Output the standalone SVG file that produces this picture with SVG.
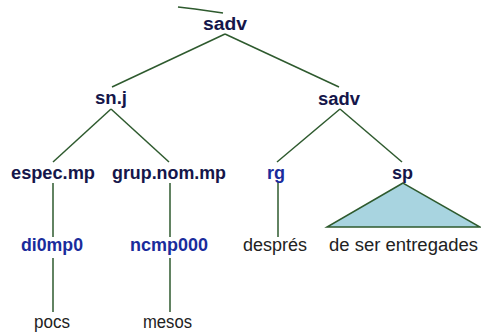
<svg xmlns="http://www.w3.org/2000/svg" width="481" height="334" viewBox="0 0 481 334">
<style>
.bg{fill:#ffffff}
.e{stroke:#2e5a2e;stroke-width:1.5;fill:none}
.tri{stroke:#2e5a2e;stroke-width:1.5;fill:#a8d4e0}
.cat{font-family:"Liberation Sans",Arial,sans-serif;font-weight:bold;font-size:18px;fill:#15164a;text-anchor:middle}
.pos{font-family:"Liberation Sans",Arial,sans-serif;font-weight:bold;font-size:18px;fill:#1a2c9c;text-anchor:middle}
.w{font-family:"Liberation Sans",Arial,sans-serif;font-size:18px;fill:#222222;text-anchor:middle}
</style>
<rect class="bg" x="0" y="0" width="481" height="334"/>
<g id="connectors">
<polyline class="e" points="178,7 195,9 223,13"/>
<line class="e" x1="225" y1="34" x2="112" y2="87"/>
<line class="e" x1="225" y1="34" x2="339" y2="87"/>
<line class="e" x1="111" y1="109" x2="53" y2="162"/>
<line class="e" x1="111" y1="109" x2="169" y2="162"/>
<line class="e" x1="340" y1="109" x2="277" y2="162"/>
<line class="e" x1="340" y1="109" x2="402" y2="162"/>
<line class="e" x1="53" y1="183" x2="53" y2="237"/>
<line class="e" x1="170" y1="183" x2="170" y2="237"/>
<line class="e" x1="278" y1="182" x2="278" y2="237"/>
<line class="e" x1="53" y1="258" x2="53" y2="312"/>
<line class="e" x1="170" y1="258" x2="170" y2="312"/>
</g>
<g id="n-sadv-root"><text class="cat" x="225" y="30" textLength="44" lengthAdjust="spacingAndGlyphs">sadv</text></g>
<g id="n-snj"><text class="cat" x="111" y="104" textLength="32" lengthAdjust="spacingAndGlyphs">sn.j</text></g>
<g id="n-sadv"><text class="cat" x="339" y="105" textLength="42" lengthAdjust="spacingAndGlyphs">sadv</text></g>
<g id="n-espec"><text class="cat" x="53" y="179" textLength="84" lengthAdjust="spacingAndGlyphs">espec.mp</text></g>
<g id="n-grup"><text class="cat" x="169" y="179" textLength="114" lengthAdjust="spacingAndGlyphs">grup.nom.mp</text></g>
<g id="n-rg"><text class="pos" x="276" y="179" textLength="18" lengthAdjust="spacingAndGlyphs">rg</text></g>
<g id="n-sp">
<polygon class="tri" points="403,183 327,227 480,227"/>
<text class="cat" x="402.5" y="179" textLength="21" lengthAdjust="spacingAndGlyphs">sp</text>
</g>
<g id="n-di0mp0"><text class="pos" x="52" y="251" textLength="62" lengthAdjust="spacingAndGlyphs">di0mp0</text></g>
<g id="n-ncmp000"><text class="pos" x="169" y="251" textLength="78" lengthAdjust="spacingAndGlyphs">ncmp000</text></g>
<g id="n-despres"><text class="w" x="275" y="251" textLength="64" lengthAdjust="spacingAndGlyphs">després</text></g>
<g id="n-deser"><text class="w" x="403.5" y="251" textLength="149" lengthAdjust="spacingAndGlyphs">de ser entregades</text></g>
<g id="n-pocs"><text class="w" x="52" y="328" textLength="36" lengthAdjust="spacingAndGlyphs">pocs</text></g>
<g id="n-mesos"><text class="w" x="167.5" y="328" textLength="49" lengthAdjust="spacingAndGlyphs">mesos</text></g>
</svg>
